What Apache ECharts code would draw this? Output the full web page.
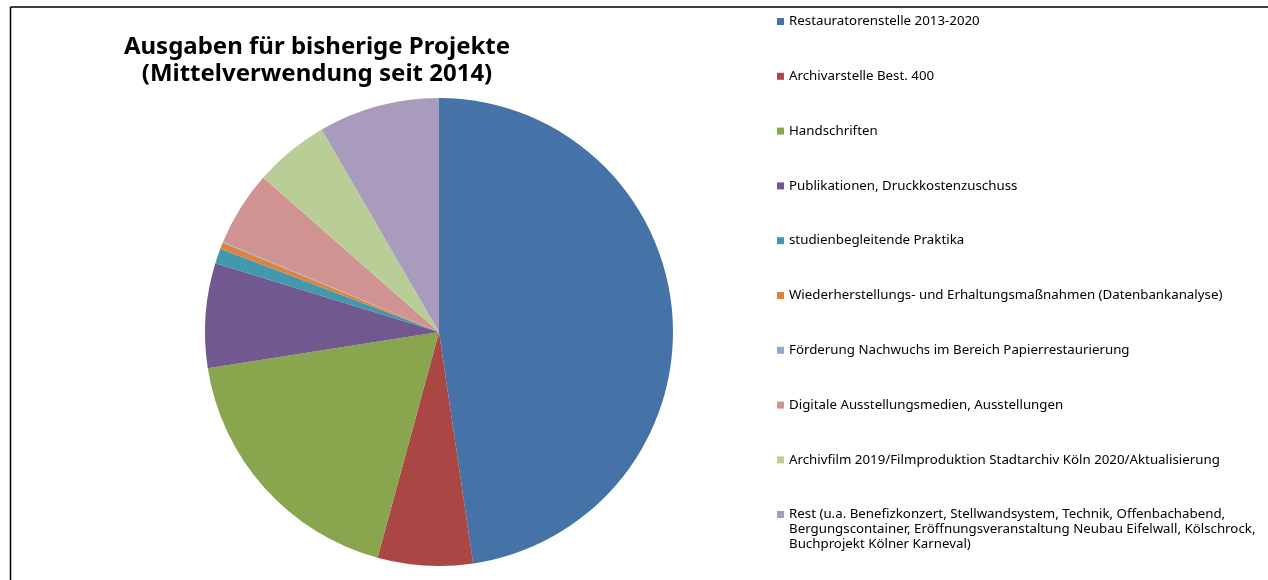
<!DOCTYPE html>
<html>
<head>
<meta charset="utf-8">
<title>Ausgaben für bisherige Projekte</title>
<script src="https://cdn.jsdelivr.net/npm/echarts@6/dist/echarts.min.js"></script>
<style>
    html, body { margin: 0; padding: 0; background: #fff; }
    #chart { width: 1268px; height: 580px; }
</style>
</head>
<body>
<div id="chart"></div>
<script>
// Kategorien (Legende)
const categories = [
    'Restauratorenstelle 2013-2020',
    'Archivarstelle Best. 400',
    'Handschriften',
    'Publikationen, Druckkostenzuschuss',
    'studienbegleitende Praktika',
    'Wiederherstellungs- und Erhaltungsmaßnahmen (Datenbankanalyse)',
    'Förderung Nachwuchs im Bereich Papierrestaurierung',
    'Digitale Ausstellungsmedien, Ausstellungen',
    'Archivfilm 2019/Filmproduktion Stadtarchiv Köln 2020/Aktualisierung',
    'Rest (u.a. Benefizkonzert, Stellwandsystem, Technik, Offenbachabend,\nBergungscontainer, Eröffnungsveranstaltung Neubau Eifelwall, Kölschrock,\nBuchprojekt Kölner Karneval)'
];
// Anteile in Prozent (aus dem Bild geschätzt)
const shares = [47.67, 6.56, 18.3, 7.22, 1.03, 0.44, 0.08, 5.17, 5.17, 8.36];
const colors = ['#4572A7', '#AA4643', '#89A54E', '#71588F', '#4198AF',
                '#DB843D', '#93A9CF', '#D19392', '#B9CD96', '#A99BBD'];

const font = '"Noto Sans", "Open Sans", sans-serif';
const lineH = 15;

let chart = echarts.init(document.getElementById('chart'));

let legendText = {
    fontFamily: font,
    fontSize: 13.3,
    color: '#000',
    lineHeight: lineH
};

let option = {
    animation: false,
    color: colors,
    title: {
        text: 'Ausgaben für bisherige Projekte\n(Mittelverwendung seit 2014)',
        left: 312,
        top: 29,
        textAlign: 'center',
        textStyle: {
            fontFamily: font,
            fontSize: 24,
            fontWeight: 'bold',
            color: '#000',
            lineHeight: 27
        }
    },
    legend: [{
        orient: 'vertical',
        left: 772,
        top: 9,
        height: 560,
        itemWidth: 7,
        itemHeight: 7,
        itemGap: 54.8 - lineH,
        icon: 'rect',
        selectedMode: false,
        itemStyle: { borderWidth: 0 },
        textStyle: legendText,
        data: categories.slice(0, 9)
    }, {
        // mehrzeiliger Eintrag: Symbol oben an der ersten Zeile
        orient: 'vertical',
        left: 772,
        top: 502,
        itemWidth: 7,
        itemHeight: 37,
        icon: 'path://M0,0L7,0L7,7L0,7Z M0,37L7,37L7,37L0,37Z',
        selectedMode: false,
        itemStyle: { borderWidth: 0 },
        textStyle: legendText,
        data: categories.slice(9)
    }],
    graphic: [
        { type: 'line', shape: { x1: 10.5, y1: 7, x2: 1268, y2: 7 }, style: { stroke: '#000', lineWidth: 1.5 } },
        { type: 'line', shape: { x1: 10.5, y1: 7, x2: 10.5, y2: 580 }, style: { stroke: '#000', lineWidth: 1.5 } }
    ],
    series: [{
        type: 'pie',
        center: [439, 332],
        radius: [0, 234],
        startAngle: 90,
        clockwise: true,
        label: { show: false },
        labelLine: { show: false },
        itemStyle: { borderWidth: 0 },
        emphasis: { disabled: true },
        data: categories.map((name, i) => ({ name: name, value: shares[i] }))
    }]
};

chart.setOption(option);
</script>
</body>
</html>
